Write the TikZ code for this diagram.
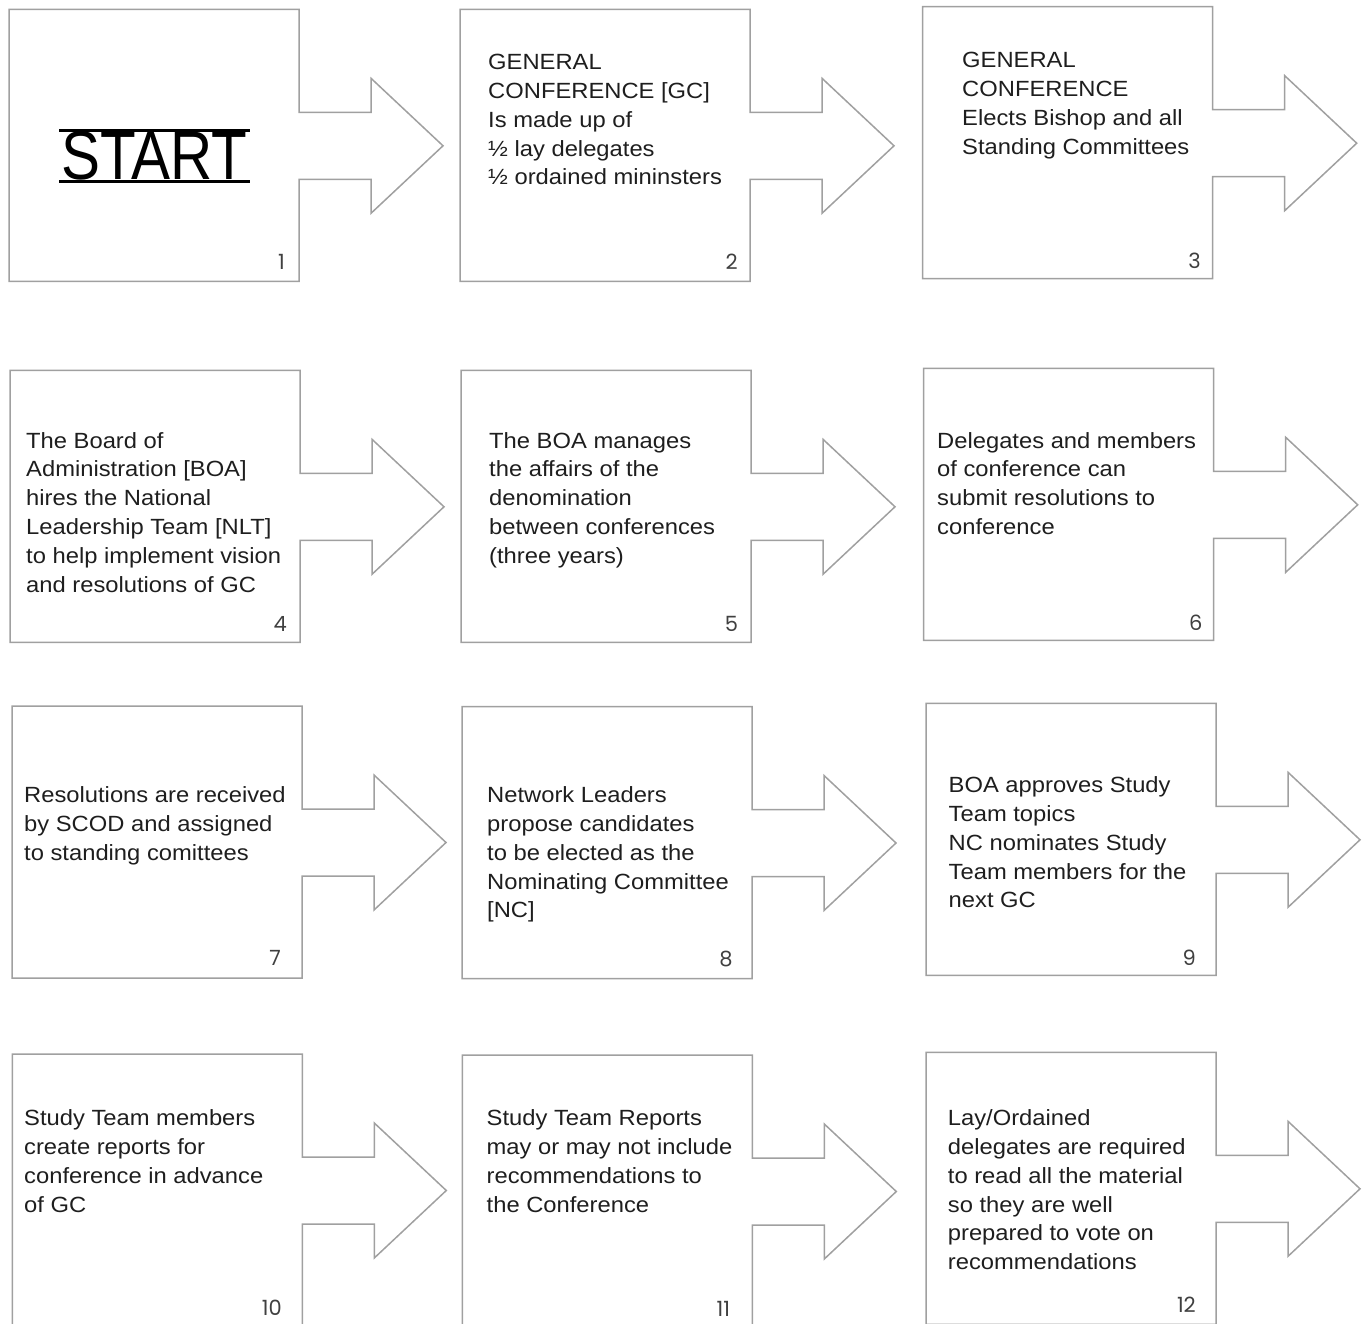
\documentclass[tikz,border=0pt]{standalone}
\usepackage{fontspec}
\setmainfont{Liberation Sans}[FakeStretch=1.08]
\newfontfamily\numfont{Poppins}
\usepackage{graphicx}
\definecolor{edge}{RGB}{160,160,160}
\definecolor{ink}{RGB}{30,30,30}
\newcommand\arrowbox[2]{%
  \draw[boxline] (#1,#2) -- ++(290,0) -- ++(0,103) -- ++(72,0) -- ++(0,-34)
    -- ++(72,67.5) -- ++(-72,67.5) -- ++(0,-34) -- ++(-72,0) -- ++(0,102)
    -- ++(-290,0) -- cycle;}
\tikzset{
  boxline/.style={draw=edge, line width=1.5pt, line join=miter},
  steptext/.style={anchor=north west, inner sep=0pt, align=left, text=ink,
    font=\fontsize{22}{28.8}\selectfont},
  stepnum/.style={anchor=base east, inner sep=0pt, text=ink!85,
    font=\numfont\fontsize{21}{24}\selectfont},
}
\newcommand\fs{\rule{0pt}{17pt}}
\begin{document}
\begin{tikzpicture}[x=1pt,y=-1pt]
\useasboundingbox (0,0) rectangle (1365,1324);
\clip (0,0) rectangle (1365,1324);
% shapes
\arrowbox{9}{9.3}
\arrowbox{460}{9.3}
\arrowbox{922.7}{6.7}
\arrowbox{10}{370.3}
\arrowbox{461}{370.3}
\arrowbox{923.7}{368.3}
\arrowbox{12}{706}
\arrowbox{462}{706.5}
\arrowbox{926}{703.3}
\arrowbox{12.3}{1054}
\arrowbox{462.3}{1055}
\arrowbox{926}{1052.3}
% START
\node[inner sep=0pt, text=black] (t1) at (154.5,156) {\resizebox{186pt}{48pt}{START}};
\draw[line width=2.6pt, black] (59.3,130.3) -- (250,130.3);
\draw[line width=2.6pt, black] (59.3,181.3) -- (250,181.3);
% texts
\node[steptext] (t2) at (488,52.5) {\fs GENERAL\\CONFERENCE [GC]\\Is made up of\\½ lay delegates\\½ ordained mininsters};
\node[steptext] (t3) at (962,50.8) {\fs GENERAL\\CONFERENCE\\Elects Bishop and all\\Standing Committees};
\node[steptext] (t4) at (26,430.8) {\fs The Board of\\Administration [BOA]\\hires the National\\Leadership Team [NLT]\\to help implement vision\\and resolutions of GC};
\node[steptext] (t5) at (489,430.8) {\fs The BOA manages\\the affairs of the\\denomination\\between conferences\\(three years)};
\node[steptext] (t6) at (937,430.8) {\fs Delegates and members\\of conference can\\submit resolutions to\\conference};
\node[steptext] (t7) at (24,785.5) {\fs Resolutions are received\\by SCOD and assigned\\to standing comittees};
\node[steptext] (t8) at (487,785.5) {\fs Network Leaders\\propose candidates\\to be elected as the\\Nominating Committee\\{[NC]}};
\node[steptext] (t9) at (948.5,775.5) {\fs BOA approves Study\\Team topics\\NC nominates Study\\Team members for the\\next GC};
\node[steptext] (t10) at (24,1108.5) {\fs Study Team members\\create reports for\\conference in advance\\of GC};
\node[steptext] (t11) at (486.5,1108.5) {\fs Study Team Reports\\may or may not include\\recommendations to\\the Conference};
\node[steptext] (t12) at (947.7,1108.5) {\fs Lay/Ordained\\delegates are required\\to read all the material\\so they are well\\prepared to vote on\\recommendations};
% numbers
\node[stepnum] (n1) at (285,269.3) {1};
\node[stepnum] (n2) at (738,269.5) {2};
\node[stepnum] (n3) at (1201,268.3) {3};
\node[stepnum] (n4) at (287,631.7) {4};
\node[stepnum] (n5) at (738.3,631.7) {5};
\node[stepnum] (n6) at (1202.7,630) {6};
\node[stepnum] (n7) at (281,965.7) {7};
\node[stepnum] (n8) at (732.7,966) {8};
\node[stepnum] (n9) at (1196,965) {9};
\node[stepnum] (n10) at (282,1315) {10};
\node[stepnum] (n11) at (730.3,1316) {11};
\node[stepnum] (n12) at (1196,1312.7) {12};
\end{tikzpicture}
\end{document}
